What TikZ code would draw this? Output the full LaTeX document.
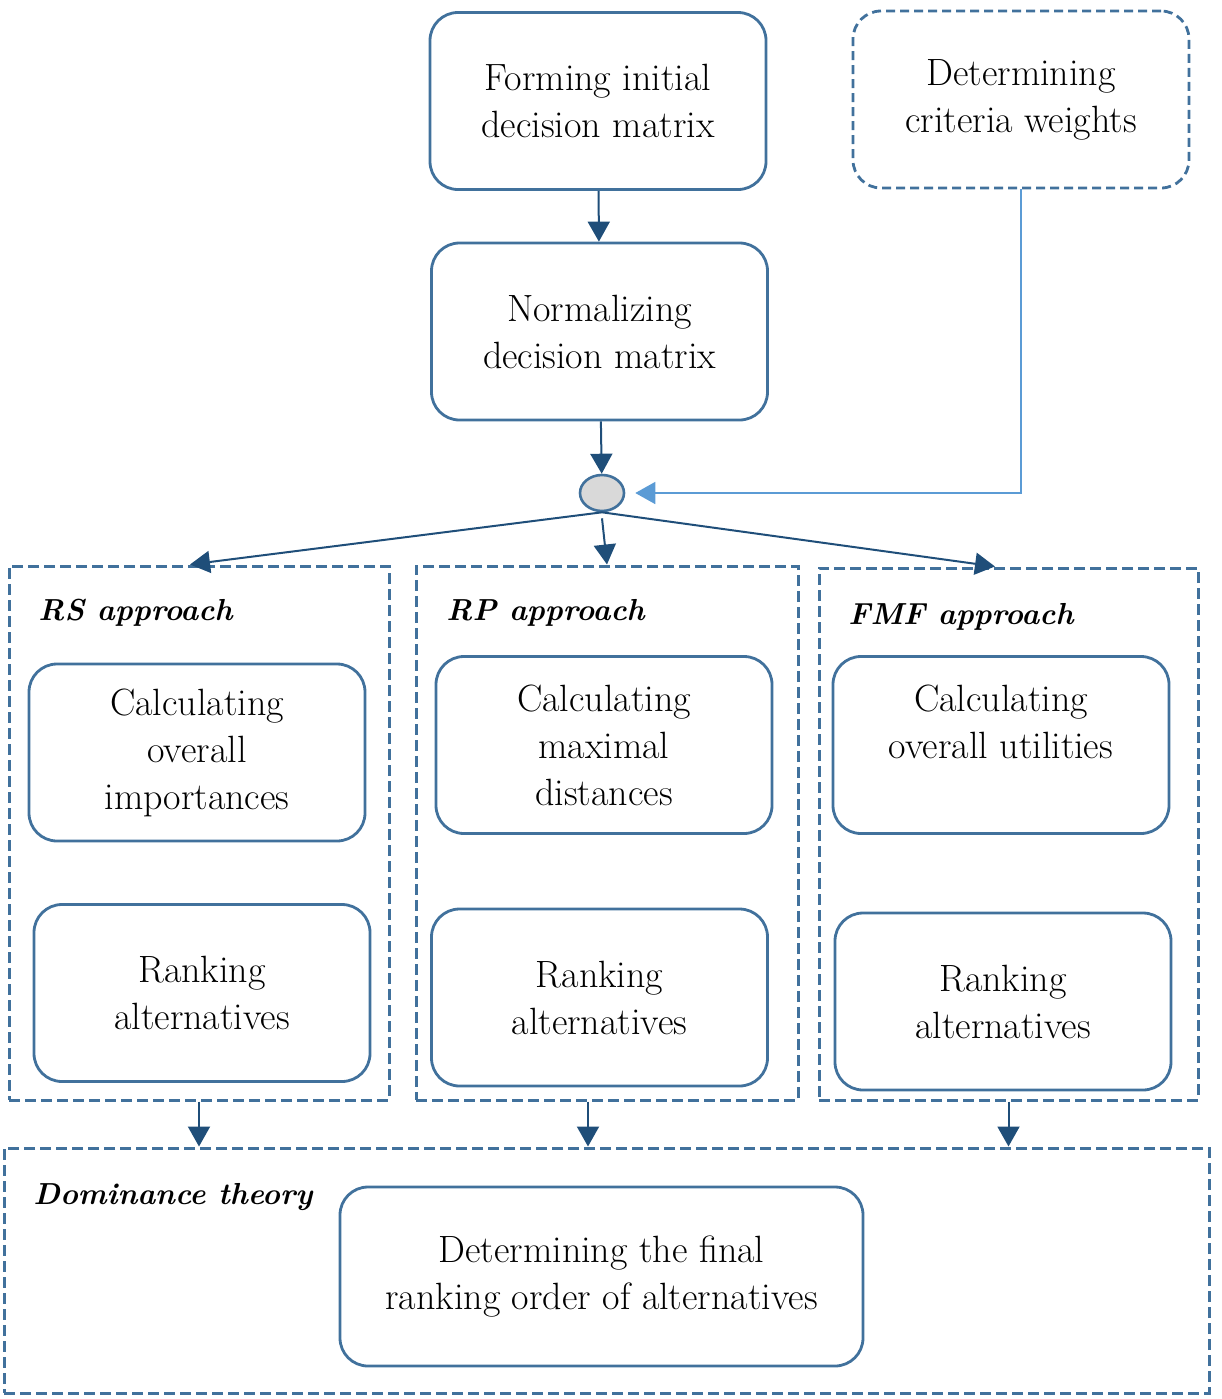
\documentclass[tikz,border=0pt]{standalone}
\usepackage{tikz}
\usetikzlibrary{arrows.meta,shapes.geometric}
\definecolor{boxblue}{RGB}{65,113,156}
\definecolor{arrowblue}{RGB}{31,78,121}
\definecolor{weightblue}{RGB}{91,155,213}

\begin{document}
\begin{tikzpicture}[x=0.5pt,y=-0.5pt,
    process/.style ={draw=boxblue, line width=1.4pt, rounded corners=14pt, minimum width=168pt, minimum height=88.5pt, align=center, inner sep=0pt, font=\fontsize{19}{23.5}\selectfont},
    group/.style ={draw=boxblue, line width=1.5pt, dash pattern=on 5.5pt off 2.5pt, inner sep=0pt},
    heading/.style ={anchor=west, inner sep=0pt, font=\fontsize{15.2}{18}\selectfont\bfseries\itshape},
    flow/.style ={draw=arrowblue, line width=1pt, -{Triangle[width=11pt,length=10pt]}}]
   \useasboundingbox (0,0) rectangle (1222,1399);
   % top of the flow
   \node[process] (form) at (598,101) {Forming initial\\decision matrix};
   \node[process, dash pattern=on 4.5pt off 2.5pt] (weights) at (1021,99.5) {Determining\\criteria weights};
   \node[process] (norm) at (599.5,331.5) {Normalizing\\decision matrix};
   \node[ellipse, draw=boxblue, fill=gray!30, line width=1.3pt, minimum width=22pt, minimum height=18pt, inner sep=0pt] (dot) at (602,493) {};
   % the three approaches
   \node[group, minimum width=190pt, minimum height=267pt] (rs) at (199,833) {};
   \node[group, minimum width=191pt, minimum height=267pt] (rp) at (607,833) {};
   \node[group, minimum width=189.5pt, minimum height=266pt] (fmf) at (1008.5,834) {};
   \node[group, minimum width=602.5pt, minimum height=122.5pt] (dom) at (606.5,1270.5) {};
   \node[heading] (rsname) at (38,613) {RS approach};
   \node[heading] (rpname) at (446,613) {RP approach};
   \node[heading] (fmfname) at (848,617) {FMF approach};
   \node[heading] (domname) at (33,1197) {Dominance theory};
   \node[process] (rscalc) at (197,752.5) {Calculating\\overall\\importances};
   \node[process] (rsrank) at (202,993) {Ranking\\alternatives};
   \node[process] (rpcalc) at (604,745) {Calculating\\maximal\\distances};
   \node[process] (rprank) at (599.5,997.5) {Ranking\\alternatives};
   \node[process] (fmfcalc) at (1001,745) {Calculating\\overall utilities\\[-7pt]\strut};
   \node[process] (fmfrank) at (1003,1001.5) {Ranking\\alternatives};
   \node[process, minimum width=261.5pt, minimum height=89.5pt] (final) at (601.5,1276.5) {Determining the final\\ranking order of alternatives};
   % connectors
   \draw[flow] (form) -- (norm);
   \draw[flow] (norm) -- (dot);
   \draw[flow, draw=weightblue, line width=0.8pt, shorten >=5pt] (weights.south) |- (dot.east);
   \draw[flow] (dot.south) -- ([xshift=-4.5pt]rs.north);
   \draw[flow] ([yshift=-3pt]dot.south) -- (rp.north);
   \draw[flow] (dot.south) -- ([xshift=-6.75pt]fmf.north);
   \draw[flow] (rs.south) -- (rs.south |- dom.north);
   \draw[flow] ([xshift=-9.5pt]rp.south) -- ([xshift=-9.5pt]rp.south |- dom.north);
   \draw[flow] (fmf.south) -- (fmf.south |- dom.north);
\end{tikzpicture}
\end{document}
